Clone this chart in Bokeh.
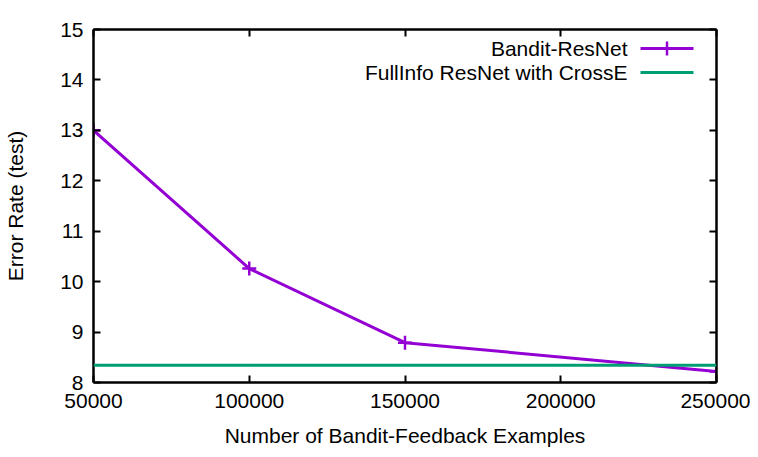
from bokeh.plotting import figure
from bokeh.models import (Range1d, FixedTicker, BasicTickFormatter, LinearAxis, Span)
from bokeh.core.properties import value
from bokeh.embed import file_html
from bokeh.resources import INLINE

# ---- data ----
examples = [50000, 100000, 150000, 250000]
bandit_error = [13.0, 10.26, 8.79, 8.22]
fullinfo_error = 8.34
series_names = ["Bandit-ResNet", "FullInfo ResNet with CrossE"]
x_ticks = [50000, 100000, 150000, 200000, 250000]
y_ticks = [8, 9, 10, 11, 12, 13, 14, 15]
x_title = "Number of Bandit-Feedback Examples"
y_title = "Error Rate (test)"

PURPLE = "#9400D3"
GREEN = "#009E73"
FONT = "Liberation Sans"
FS = "21px"

W, H = 750, 449
FL, FR, FT, FB = 93, 716, 29, 382  # frame edges in figure px

x0, x1 = x_ticks[0], x_ticks[-1]
y0, y1 = y_ticks[0], y_ticks[-1]

p = figure(width=W, height=H, output_backend="svg", toolbar_location=None,
           x_range=Range1d(x0, x1), y_range=Range1d(y0, y1),
           min_border_left=FL, min_border_right=W - FR,
           min_border_top=FT, min_border_bottom=H - FB,
           x_axis_label=x_title, y_axis_label=y_title)
p.grid.visible = False
p.outline_line_color = None
p.background_fill_color = "white"
p.border_fill_color = "white"

bottom_ax = p.below[0]
left_ax = p.left[0]
top_ax = LinearAxis()
right_ax = LinearAxis()
p.add_layout(top_ax, "above")
p.add_layout(right_ax, "right")

for ax, ticks in ((bottom_ax, x_ticks), (top_ax, x_ticks), (left_ax, y_ticks), (right_ax, y_ticks)):
    ax.ticker = FixedTicker(ticks=ticks)
    ax.formatter = BasicTickFormatter(use_scientific=False)
    ax.axis_line_width = 2.5
    ax.axis_line_color = "black"
    ax.major_tick_in = 7
    ax.major_tick_out = 0
    ax.major_tick_line_width = 2
    ax.minor_tick_line_color = None
    ax.major_label_text_font = FONT
    ax.major_label_text_font_size = FS
    ax.major_label_text_color = "black"
    ax.axis_label_text_font = FONT
    ax.axis_label_text_font_size = FS
    ax.axis_label_text_font_style = "normal"
    ax.axis_label_text_color = "black"

for ax in (top_ax, right_ax):
    ax.major_label_text_color = None
    ax.major_label_text_font_size = "1px"
    ax.major_label_standoff = 0

bottom_ax.major_label_standoff = 11
bottom_ax.axis_label_standoff = 13
left_ax.major_label_standoff = 10
left_ax.axis_label_standoff = 30

# FullInfo baseline
p.add_layout(Span(location=fullinfo_error, dimension="width",
                  line_color=GREEN, line_width=3))

# Bandit curve
p.line(examples, bandit_error, line_color=PURPLE, line_width=3)
p.scatter(examples, bandit_error, marker="cross", size=14,
          line_color=PURPLE, line_width=2.5)

# ---- manual legend (text right-aligned, sample on the right) ----
def fx(px):
    return x0 + (px - FL) / (FR - FL) * (x1 - x0)

def fy(py):
    return y1 - (py - FT) / (FB - FT) * (y1 - y0)

row_y = [fy(48), fy(72)]
p.text(x=[fx(627)] * 2, y=row_y, text=series_names,
       text_align="right", text_baseline="middle",
       text_font=value(FONT), text_font_size=FS, text_color="black")
p.segment(x0=[fx(640)] * 2, y0=row_y, x1=[fx(693)] * 2, y1=row_y,
          line_color=[PURPLE, GREEN], line_width=[3, 3])
p.scatter(x=[fx(666.5)], y=[row_y[0]], marker="cross", size=14,
          line_color=PURPLE, line_width=2.5)

open("out.html", "w").write(file_html(p, INLINE))
